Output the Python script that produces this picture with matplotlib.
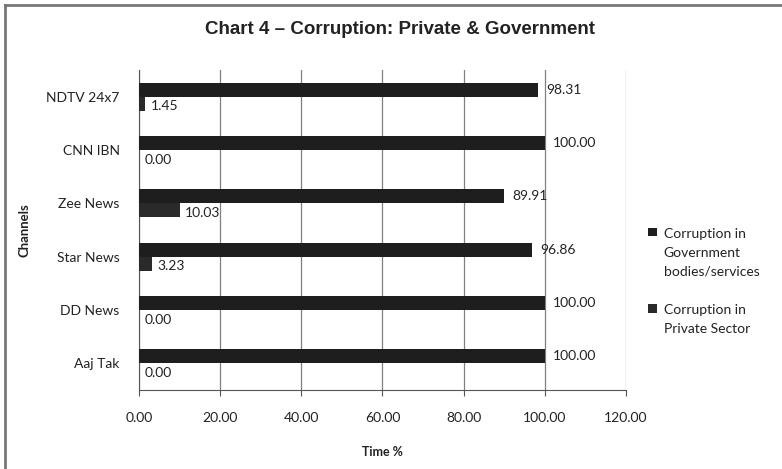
import matplotlib
matplotlib.use("Agg")
import matplotlib.pyplot as plt
from matplotlib.lines import Line2D

channels = ["Aaj Tak", "DD News", "Star News", "Zee News", "CNN IBN", "NDTV 24x7"]
government = [100.00, 100.00, 96.86, 89.91, 100.00, 98.31]
private = [0.00, 0.00, 3.23, 10.03, 0.00, 1.45]
xticks = [0, 20, 40, 60, 80, 100, 120]

plt.rcParams['font.family'] = ['Lato', 'DejaVu Sans']

fig = plt.figure(figsize=(7.82, 4.69), dpi=100)
ax = fig.add_axes([0.1777, 0.1684, 0.8005 - 0.1777, 0.8507 - 0.1684])

pos = list(range(len(channels)))
h = 0.26
gov_bars = ax.barh([p + h / 2 for p in pos], government, height=h, color="#1e1e1e",
                   label="Corruption in\nGovernment\nbodies/services", zorder=3)
priv_bars = ax.barh([p - h / 2 for p in pos], private, height=h, color="#2a2a2a",
                    label="Corruption in\nPrivate Sector", zorder=3)

for bar, v in zip(gov_bars, government):
    ax.annotate("%.2f" % v, (bar.get_width(), bar.get_y() + bar.get_height() / 2),
                xytext=(6, 0), textcoords="offset points", va="center", ha="left",
                fontsize=10, color="#222222")
for bar, v in zip(priv_bars, private):
    ax.annotate("%.2f" % v, (bar.get_width(), bar.get_y() + bar.get_height() / 2),
                xytext=(4, -2), textcoords="offset points", va="center", ha="left",
                fontsize=10, color="#222222")

ax.set_xlim(0, 120)
ax.set_ylim(-0.5, len(channels) - 0.5)
ax.set_xticks(xticks)
ax.set_xticklabels(["%.2f" % t for t in xticks], fontsize=10, color="#222222")
ax.set_yticks(pos)
ax.set_yticklabels(channels, fontsize=10, color="#222222")
ax.tick_params(axis="y", length=0, pad=14)
ax.tick_params(axis="x", length=4, direction="out", pad=12, color="#555555")
ax.grid(axis="x", color="#808080", linewidth=0.9, zorder=0)
ax.spines["top"].set_visible(False)
ax.spines["right"].set_visible(False)
for s in ["left", "bottom"]:
    ax.spines[s].set_color("#555555")

ax.set_xlabel("Time %", fontsize=9, fontweight="bold", color="#222222", labelpad=16)
ax.set_ylabel("Channels", fontsize=9.5, fontweight="bold", color="#222222", labelpad=11)

leg = ax.legend(loc="center left", bbox_to_anchor=(1.02, 0.34), frameon=False,
                fontsize=10, handlelength=0.6, handleheight=0.6, handletextpad=0.5,
                labelspacing=1.9, labelcolor="#222222")
for t in leg.get_texts():
    t.set_linespacing(1.7)
# put each legend square next to the first line of its label
for column in leg._legend_handle_box.get_children():
    for item in column.get_children():
        item.align = "top"

fig.text(0.511, 0.937, "Chart 4 \u2013 Corruption: Private & Government",
         ha="center", va="center", fontsize=13.5, fontweight="bold",
         family=['Liberation Sans Narrow', 'Liberation Sans', 'DejaVu Sans'], color="#222222")

# frame around the chart (top and left edges visible)
fig.add_artist(Line2D([0.007, 1.0], [0.989, 0.989], transform=fig.transFigure, color="#777777", linewidth=2))
fig.add_artist(Line2D([0.007, 0.007], [0.0, 0.989], transform=fig.transFigure, color="#777777", linewidth=2))

fig.savefig("out.png", dpi=100)
